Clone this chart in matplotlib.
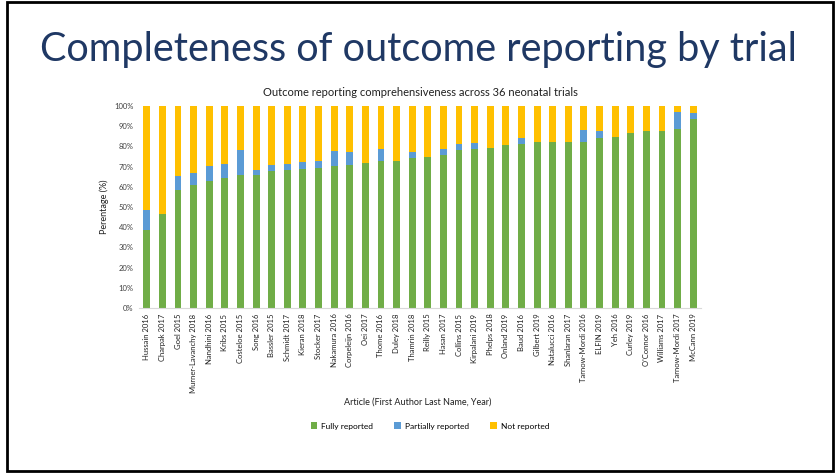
import matplotlib.pyplot as plt
import matplotlib.patches as mpatches
import numpy as np

articulos = ["Hussain 2016", "Charpak 2017", "Goel 2015", "Murner-Lavanchy 2018",
             "Nandhini 2016", "Kribs 2015", "Costeloe 2015", "Song 2016",
             "Bassler 2015", "Schmidt 2017", "Kieran 2018", "Stocker 2017",
             "Nakamura 2016", "Corpeleijn 2016", "Oei 2017", "Thome 2016",
             "Duley 2018", "Thamrin 2018", "Reilly 2015", "Hasan 2017",
             "Collins 2015", "Kirpalani 2019", "Phelps 2018", "Onland 2019",
             "Baud 2016", "Gilbert 2019", "Natalucci 2016", "Shanlaran 2017",
             "Tarnow-Mordi 2016", "ELFIN 2019", "Yeh 2016", "Curley 2019",
             "O'Connor 2016", "Williams 2017", "Tarnow-Mordi 2017", "McCann 2019"]

# porcentajes por ensayo (%)
completo = [38.7, 46.7, 58.6, 61.1, 62.9, 64.2, 65.6, 65.6, 67.7, 68.5, 69.0, 69.5,
            70.4, 70.9, 72.0, 72.7, 72.7, 74.3, 74.8, 75.7, 78.1, 78.6, 79.3, 80.6,
            81.3, 82.3, 82.3, 82.3, 82.3, 84.3, 84.8, 86.8, 87.4, 87.7, 88.4, 93.5]
parcial = [9.6, 0.0, 6.8, 5.5, 7.3, 7.2, 12.5, 2.8, 3.2, 2.9, 3.4, 3.2,
           7.4, 6.4, 0.0, 5.9, 0.0, 2.9, 0.0, 2.9, 3.2, 3.2, 0.0, 0.0,
           3.0, 0.0, 0.0, 0.0, 5.9, 3.1, 0.0, 0.0, 0.0, 0.0, 8.8, 3.2]

completo = np.array(completo)
parcial = np.array(parcial)
no_reportado = 100 - completo - parcial

verde = '#70AD47'
azul = '#5B9BD5'
amarillo = '#FFC000'

plt.rcParams['font.family'] = ['Lato', 'DejaVu Sans']

fig = plt.figure(figsize=(8.37, 4.74), dpi=100)

# marco de la diapositiva
fig.patches.append(mpatches.Rectangle((7/837, 3/474), 826/837, 469/474, transform=fig.transFigure,
                                      fill=False, edgecolor='black', linewidth=2))

fig.text(0.5, 1 - 50/474, "Completeness of outcome reporting by trial", ha='center', va='center',
         fontsize=28.5, color='#1F3864')

ax = fig.add_axes([139/837, 1 - 308/474, 562/837, 202/474])
x = np.arange(len(articulos))
ax.bar(x, completo, width=0.44, color=verde, label='Fully reported')
ax.bar(x, parcial, width=0.44, bottom=completo, color=azul, label='Partially reported')
ax.bar(x, no_reportado, width=0.44, bottom=completo + parcial, color=amarillo, label='Not reported')

ax.set_xlim(-0.5, len(articulos) - 0.5)
ax.set_ylim(0, 100)
ax.set_yticks(np.arange(0, 101, 10))
ax.set_yticklabels([f'{v}%' for v in range(0, 101, 10)], fontsize=5.5, color='#404040')
ax.set_xticks(x)
ax.set_xticklabels(articulos, rotation=90, fontsize=5.5, color='#202020')
ax.tick_params(axis='both', length=0, pad=4)
for lado in ['top', 'right', 'left']:
    ax.spines[lado].set_visible(False)
ax.spines['bottom'].set_color('#D9D9D9')

ax.set_title("Outcome reporting comprehensiveness across 36 neonatal trials", fontsize=8,
             color='#202020', pad=7)
ax.set_ylabel("Perentage (%)", fontsize=6.5, color='#202020', labelpad=4)

fig.text(418/837, 1 - 402/474, "Article (First Author Last Name, Year)", ha='center', va='center',
         fontsize=6.5, color='#202020')
fig.legend(loc='center', bbox_to_anchor=(430/837, 1 - 426/474), ncol=3, frameon=False,
           fontsize=6, handlelength=0.8, handleheight=0.8, columnspacing=2.5, handletextpad=0.5)

fig.savefig('out.png', dpi=100)
